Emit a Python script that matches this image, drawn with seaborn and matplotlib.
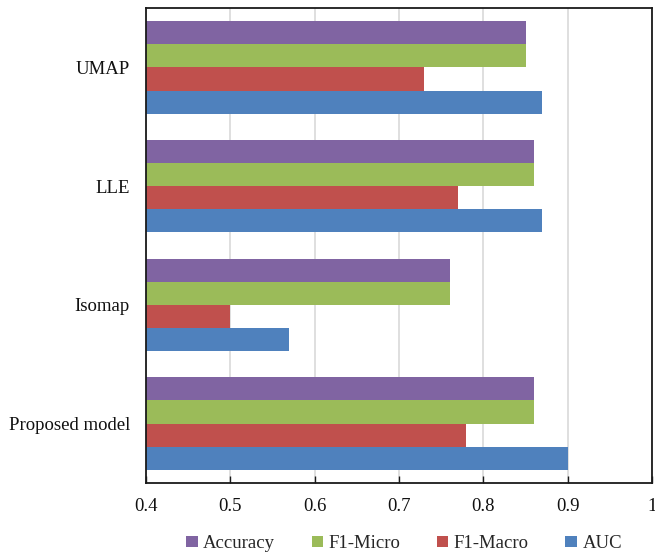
import matplotlib
matplotlib.use("Agg")
import matplotlib.pyplot as plt
from matplotlib.patches import Patch
import seaborn as sns
import pandas as pd

methods = ["UMAP", "LLE", "Isomap", "Proposed model"]
metrics = ["Accuracy", "F1-Micro", "F1-Macro", "AUC"]
accuracy = [0.85, 0.86, 0.76, 0.86]
f1_micro = [0.85, 0.86, 0.76, 0.86]
f1_macro = [0.73, 0.77, 0.50, 0.78]
auc = [0.87, 0.87, 0.57, 0.90]
x_ticks = [0.4, 0.5, 0.6, 0.7, 0.8, 0.9, 1.0]
x_tick_labels = ["0.4", "0.5", "0.6", "0.7", "0.8", "0.9", "1"]

colors = ["#8064A2", "#9BBB59", "#C0504D", "#4F81BD"]

rows = []
for metric, vals in zip(metrics, [accuracy, f1_micro, f1_macro, auc]):
    for m, v in zip(methods, vals):
        rows.append({"method": m, "metric": metric, "score": v})
df = pd.DataFrame(rows)

sns.set_theme(style="white")
plt.rcParams["font.family"] = ["Liberation Serif", "DejaVu Serif"]

fig = plt.figure(figsize=(6.55, 5.57), dpi=100)
ax = fig.add_axes([146 / 655, 1 - 483 / 557, 506 / 655, 475 / 557])

sns.barplot(data=df, y="method", x="score", hue="metric", order=methods,
            hue_order=metrics, palette=colors, orient="h", width=0.78,
            saturation=1, linewidth=0, legend=False, ax=ax)

ax.set_xlim(0.4, 1.0)
ax.set_ylim(len(methods) - 0.5, -0.5)
ax.set_xticks(x_ticks)
ax.set_xticklabels(x_tick_labels)
ax.set_xlabel("")
ax.set_ylabel("")
ax.set_axisbelow(True)
ax.xaxis.grid(True, color="#D9D9D9", linewidth=1.2)
ax.yaxis.grid(False)

for s in ax.spines.values():
    s.set_visible(True)
    s.set_color("#1a1a1a")
    s.set_linewidth(1.3)

ax.tick_params(axis="x", which="both", direction="in", length=5, width=1,
               color="#1a1a1a", bottom=True, pad=10.5, labelsize=13.5, labelcolor="#111111")
ax.tick_params(axis="y", left=False, length=0, pad=11.5, labelsize=13.5, labelcolor="#111111")

handles = [Patch(facecolor=c, edgecolor="none") for c in colors]
fig.legend(handles, metrics, loc="lower center", bbox_to_anchor=(0.617, -0.0215),
           ncol=4, frameon=False, fontsize=13.5, handlelength=0.6,
           handleheight=0.6, handletextpad=0.3, columnspacing=1.95)

fig.savefig("out.png", dpi=100)
